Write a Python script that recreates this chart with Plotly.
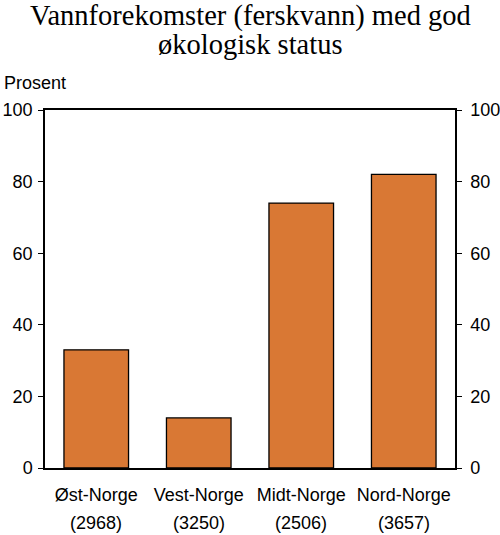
import plotly.graph_objects as go

regions = ["Øst-Norge", "Vest-Norge", "Midt-Norge", "Nord-Norge"]
counts = ["(2968)", "(3250)", "(2506)", "(3657)"]
values = [33, 14, 74, 82]
tick_vals = [0, 20, 40, 60, 80, 100]
title_lines = ["Vannforekomster (ferskvann) med god", "økologisk status"]
y_label = "Prosent"

BAR = "#D97834"
SANS = "Liberation Sans, Arial, sans-serif"
SERIF = "Liberation Serif, Times New Roman, serif"

fig = go.Figure()
fig.add_trace(go.Bar(
    x=regions, y=values,
    marker=dict(color=BAR, line=dict(color="black", width=1.3)),
    width=0.63, hoverinfo="skip", showlegend=False,
))
fig.add_trace(go.Scatter(
    x=regions, y=values, yaxis="y2", mode="none",
    hoverinfo="skip", showlegend=False,
))

axis_common = dict(
    range=[0, 100], tickvals=tick_vals, ticks="outside", ticklen=5,
    tickwidth=1.3, tickcolor="black", showline=True, linecolor="black",
    linewidth=1.5, showgrid=False, zeroline=False, automargin=False,
    tickfont=dict(family=SANS, size=18, color="black"),
)

fig.update_layout(
    width=500, height=535,
    margin=dict(l=45, r=45, t=110, b=67),
    paper_bgcolor="white", plot_bgcolor="white",
    xaxis=dict(
        showline=True, linecolor="black", linewidth=1.5, mirror=True,
        ticks="", showgrid=False, automargin=False,
        tickfont=dict(family=SANS, size=18, color="black"),
        ticklabelstandoff=10,
    ),
    yaxis=dict(**axis_common, side="left", ticklabelstandoff=2),
    yaxis2=dict(**axis_common, side="right", overlaying="y", ticklabelstandoff=5),
    bargap=0.37,
)

annotations = []
for i, line in enumerate(title_lines):
    annotations.append(dict(
        text=line, xref="paper", yref="paper", x=0.5,
        y=[1.262, 1.182][i], yanchor="middle", xanchor="center",
        showarrow=False, font=dict(family=SERIF, size=28.5, color="black"),
    ))
annotations.append(dict(
    text=y_label, xref="paper", yref="paper", x=-0.106, xanchor="left",
    y=(468 - 83) / 358, yanchor="middle", showarrow=False,
    font=dict(family=SANS, size=18, color="black"),
))
for r, c in zip(regions, counts):
    annotations.append(dict(
        text=c, xref="x", yref="paper", x=r, y=(468 - 523) / 358,
        yanchor="middle", showarrow=False,
        font=dict(family=SANS, size=18, color="black"),
    ))
fig.update_layout(annotations=annotations)

fig.write_html("out.html", config={"displayModeBar": False},
               post_script="document.body.style.margin='0';")
